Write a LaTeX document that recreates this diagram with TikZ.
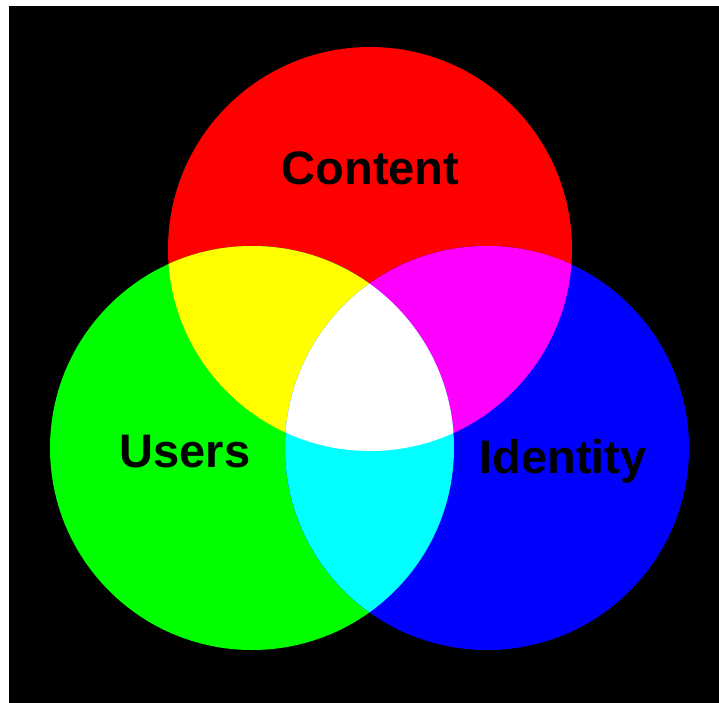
\documentclass[tikz,border=0pt]{standalone}
\usepackage{fontspec}
\setmainfont{Liberation Sans}
\definecolor{pR}{RGB}{255,0,0}
\definecolor{pG}{RGB}{0,255,0}
\definecolor{pB}{RGB}{0,0,255}
\definecolor{pY}{RGB}{255,255,0}
\definecolor{pM}{RGB}{255,0,255}
\definecolor{pC}{RGB}{0,255,255}
\definecolor{pW}{RGB}{255,255,255}
\definecolor{pK}{RGB}{0,0,0}
\begin{document}
\begin{tikzpicture}[x=1pt,y=-1pt,
  lbl/.style={font=\fontsize{47}{56}\selectfont\bfseries, text=pK, anchor=base, inner sep=0pt},
  disc/.style={radius=202pt}]
\useasboundingbox (0,0) rectangle (719,702);
\fill[pW] (0,0) rectangle (719,702);
\fill[pK] (9,6) rectangle (720,703);
\coordinate (cR) at (370,249);
\coordinate (cG) at (252,448);
\coordinate (cB) at (487,448);
\fill[pR] (cR) circle[disc];
\fill[pG] (cG) circle[disc];
\fill[pB] (cB) circle[disc];
\begin{scope}
  \clip (cR) circle[disc];
  \fill[pY] (cG) circle[disc];
  \fill[pM] (cB) circle[disc];
\end{scope}
\begin{scope}
  \clip (cG) circle[disc];
  \fill[pC] (cB) circle[disc];
  \clip (cR) circle[disc];
  \fill[pW] (cB) circle[disc];
\end{scope}
\node[lbl] (content) at (370.5,184) {Content};
\node[lbl] (users) at (185,467) {Users};
\node[lbl] (identity) at (563,473) {Identity};
\end{tikzpicture}
\end{document}
